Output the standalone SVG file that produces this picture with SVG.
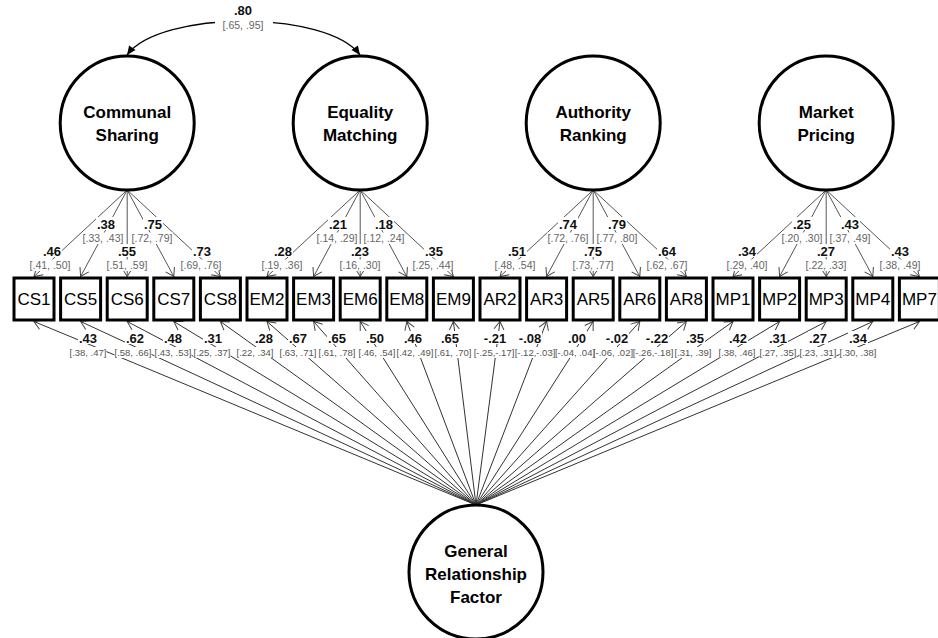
<svg xmlns="http://www.w3.org/2000/svg" width="938" height="638" viewBox="0 0 938 638">
<style>
text{font-family:"Liberation Sans",Arial,sans-serif;text-anchor:middle}
.box{fill:#fff;stroke:#000;stroke-width:3}
.lat{fill:#fff;stroke:#000;stroke-width:3}
.ln{stroke:#555;stroke-width:1;fill:none;marker-end:url(#oa)}
.lb{stroke:#333;stroke-width:1;fill:none;marker-end:url(#oa)}
.bt{font-size:17px;fill:#000}
.lt{font-size:17px;font-weight:bold;fill:#000}
.b{font-size:13px;font-weight:bold;fill:#111}
.ci{font-size:10.5px;fill:#666}
.ci2{font-size:9.5px;fill:#555}
.bg{fill:#fff}
</style>
<defs>
<marker id="oa" markerUnits="userSpaceOnUse" markerWidth="10" markerHeight="12" refX="8" refY="5" orient="auto" overflow="visible">
<path d="M0,0 L8,5 L0,10" fill="none" stroke="#444" stroke-width="1"/>
</marker>
<marker id="fa" markerUnits="userSpaceOnUse" markerWidth="10" markerHeight="10" refX="9" refY="4" orient="auto-start-reverse" overflow="visible">
<path d="M0,0 L9,4 L0,8 z" fill="#000"/>
</marker>
</defs>
<rect width="938" height="638" fill="#fff"/>

<g id="connectors">
<path d="M127,55 C160,10 327,10 360,55" fill="none" stroke="#000" stroke-width="1.3" marker-start="url(#fa)" marker-end="url(#fa)"/>
<g id="loadings-specific">
<line class="ln" x1="127.2" y1="190" x2="34" y2="276.5"/>
<line class="ln" x1="127.2" y1="190" x2="80.6" y2="276.5"/>
<line class="ln" x1="127.2" y1="190" x2="127.2" y2="276.5"/>
<line class="ln" x1="127.2" y1="190" x2="173.8" y2="276.5"/>
<line class="ln" x1="127.2" y1="190" x2="220.4" y2="276.5"/>
<line class="ln" x1="360.2" y1="190" x2="267" y2="276.5"/>
<line class="ln" x1="360.2" y1="190" x2="313.6" y2="276.5"/>
<line class="ln" x1="360.2" y1="190" x2="360.2" y2="276.5"/>
<line class="ln" x1="360.2" y1="190" x2="406.8" y2="276.5"/>
<line class="ln" x1="360.2" y1="190" x2="453.4" y2="276.5"/>
<line class="ln" x1="593.2" y1="190" x2="500" y2="276.5"/>
<line class="ln" x1="593.2" y1="190" x2="546.6" y2="276.5"/>
<line class="ln" x1="593.2" y1="190" x2="593.2" y2="276.5"/>
<line class="ln" x1="593.2" y1="190" x2="639.8" y2="276.5"/>
<line class="ln" x1="593.2" y1="190" x2="686.4" y2="276.5"/>
<line class="ln" x1="826.2" y1="190" x2="733" y2="276.5"/>
<line class="ln" x1="826.2" y1="190" x2="779.6" y2="276.5"/>
<line class="ln" x1="826.2" y1="190" x2="826.2" y2="276.5"/>
<line class="ln" x1="826.2" y1="190" x2="872.8" y2="276.5"/>
<line class="ln" x1="826.2" y1="190" x2="919.4" y2="276.5"/>
</g>
<g id="loadings-general">
<line class="lb" x1="476" y1="505" x2="34" y2="321.5"/>
<line class="lb" x1="476" y1="505" x2="80.6" y2="321.5"/>
<line class="lb" x1="476" y1="505" x2="127.2" y2="321.5"/>
<line class="lb" x1="476" y1="505" x2="173.8" y2="321.5"/>
<line class="lb" x1="476" y1="505" x2="220.4" y2="321.5"/>
<line class="lb" x1="476" y1="505" x2="267" y2="321.5"/>
<line class="lb" x1="476" y1="505" x2="313.6" y2="321.5"/>
<line class="lb" x1="476" y1="505" x2="360.2" y2="321.5"/>
<line class="lb" x1="476" y1="505" x2="406.8" y2="321.5"/>
<line class="lb" x1="476" y1="505" x2="453.4" y2="321.5"/>
<line class="lb" x1="476" y1="505" x2="500" y2="321.5"/>
<line class="lb" x1="476" y1="505" x2="546.6" y2="321.5"/>
<line class="lb" x1="476" y1="505" x2="593.2" y2="321.5"/>
<line class="lb" x1="476" y1="505" x2="639.8" y2="321.5"/>
<line class="lb" x1="476" y1="505" x2="686.4" y2="321.5"/>
<line class="lb" x1="476" y1="505" x2="733" y2="321.5"/>
<line class="lb" x1="476" y1="505" x2="779.6" y2="321.5"/>
<line class="lb" x1="476" y1="505" x2="826.2" y2="321.5"/>
<line class="lb" x1="476" y1="505" x2="872.8" y2="321.5"/>
<line class="lb" x1="476" y1="505" x2="919.4" y2="321.5"/>
</g>
</g>

<g id="labels-bg">
<rect class="bg" x="215" y="2" width="58" height="29"/>
<rect class="bg" x="42" y="244" width="20" height="13"/><rect class="bg" x="29" y="259.5" width="42" height="11.5"/>
<rect class="bg" x="117" y="244" width="20" height="13"/><rect class="bg" x="106" y="259.5" width="42" height="11.5"/>
<rect class="bg" x="192" y="244" width="20" height="13"/><rect class="bg" x="180" y="259.5" width="42" height="11.5"/>
<rect class="bg" x="273" y="244" width="20" height="13"/><rect class="bg" x="261" y="259.5" width="42" height="11.5"/>
<rect class="bg" x="350" y="244" width="20" height="13"/><rect class="bg" x="339" y="259.5" width="42" height="11.5"/>
<rect class="bg" x="424" y="244" width="20" height="13"/><rect class="bg" x="412" y="259.5" width="42" height="11.5"/>
<rect class="bg" x="507" y="244" width="20" height="13"/><rect class="bg" x="494" y="259.5" width="42" height="11.5"/>
<rect class="bg" x="583" y="244" width="20" height="13"/><rect class="bg" x="572" y="259.5" width="42" height="11.5"/>
<rect class="bg" x="657" y="244" width="20" height="13"/><rect class="bg" x="646" y="259.5" width="42" height="11.5"/>
<rect class="bg" x="737" y="244" width="20" height="13"/><rect class="bg" x="726" y="259.5" width="42" height="11.5"/>
<rect class="bg" x="816" y="244" width="20" height="13"/><rect class="bg" x="805" y="259.5" width="42" height="11.5"/>
<rect class="bg" x="890" y="244" width="20" height="13"/><rect class="bg" x="879" y="259.5" width="42" height="11.5"/>
<rect class="bg" x="96" y="217" width="20" height="13"/><rect class="bg" x="82" y="232.5" width="42" height="11.5"/>
<rect class="bg" x="143" y="217" width="20" height="13"/><rect class="bg" x="131" y="232.5" width="42" height="11.5"/>
<rect class="bg" x="328" y="217" width="20" height="13"/><rect class="bg" x="316" y="232.5" width="42" height="11.5"/>
<rect class="bg" x="374" y="217" width="20" height="13"/><rect class="bg" x="363" y="232.5" width="42" height="11.5"/>
<rect class="bg" x="558" y="217" width="20" height="13"/><rect class="bg" x="547" y="232.5" width="42" height="11.5"/>
<rect class="bg" x="607" y="217" width="20" height="13"/><rect class="bg" x="596" y="232.5" width="42" height="11.5"/>
<rect class="bg" x="792" y="217" width="20" height="13"/><rect class="bg" x="781" y="232.5" width="42" height="11.5"/>
<rect class="bg" x="840" y="217" width="20" height="13"/><rect class="bg" x="829" y="232.5" width="42" height="11.5"/>
<rect class="bg" x="78" y="331" width="20" height="13"/><rect class="bg" x="69.5" y="347" width="37" height="11"/>
<rect class="bg" x="125" y="331" width="20" height="13"/><rect class="bg" x="114.5" y="347" width="37" height="11"/>
<rect class="bg" x="163" y="331" width="20" height="13"/><rect class="bg" x="154.5" y="347" width="37" height="11"/>
<rect class="bg" x="203" y="331" width="20" height="13"/><rect class="bg" x="193.5" y="347" width="37" height="11"/>
<rect class="bg" x="254" y="331" width="20" height="13"/><rect class="bg" x="236.5" y="347" width="37" height="11"/>
<rect class="bg" x="288" y="331" width="20" height="13"/><rect class="bg" x="279.5" y="347" width="37" height="11"/>
<rect class="bg" x="327" y="331" width="20" height="13"/><rect class="bg" x="318.5" y="347" width="37" height="11"/>
<rect class="bg" x="365" y="331" width="20" height="13"/><rect class="bg" x="358.5" y="347" width="37" height="11"/>
<rect class="bg" x="403" y="331" width="20" height="13"/><rect class="bg" x="396.5" y="347" width="37" height="11"/>
<rect class="bg" x="440" y="331" width="20" height="13"/><rect class="bg" x="434.5" y="347" width="37" height="11"/>
<rect class="bg" x="483" y="331" width="24" height="13"/><rect class="bg" x="473.5" y="347" width="41" height="11"/>
<rect class="bg" x="518" y="331" width="24" height="13"/><rect class="bg" x="514.5" y="347" width="41" height="11"/>
<rect class="bg" x="567" y="331" width="20" height="13"/><rect class="bg" x="555" y="347" width="40" height="11"/>
<rect class="bg" x="605" y="331" width="24" height="13"/><rect class="bg" x="593" y="347" width="40" height="11"/>
<rect class="bg" x="645" y="331" width="24" height="13"/><rect class="bg" x="632.5" y="347" width="41" height="11"/>
<rect class="bg" x="685" y="331" width="20" height="13"/><rect class="bg" x="674.5" y="347" width="37" height="11"/>
<rect class="bg" x="728" y="331" width="20" height="13"/><rect class="bg" x="718.5" y="347" width="37" height="11"/>
<rect class="bg" x="768" y="331" width="20" height="13"/><rect class="bg" x="759.5" y="347" width="37" height="11"/>
<rect class="bg" x="808" y="331" width="20" height="13"/><rect class="bg" x="799.5" y="347" width="37" height="11"/>
<rect class="bg" x="848" y="331" width="20" height="13"/><rect class="bg" x="839.5" y="347" width="37" height="11"/>
</g>

<g id="labels">
<text class="b" x="243" y="15">.80</text><text class="ci" x="243" y="28.5">[.65, .95]</text>
<text class="b" x="52" y="256">.46</text><text class="ci" x="50" y="269">[.41, .50]</text>
<text class="b" x="106" y="229">.38</text><text class="ci" x="103" y="242">[.33, .43]</text>
<text class="b" x="127" y="256">.55</text><text class="ci" x="127" y="269">[.51, .59]</text>
<text class="b" x="153" y="229">.75</text><text class="ci" x="152" y="242">[.72, .79]</text>
<text class="b" x="202" y="256">.73</text><text class="ci" x="201" y="269">[.69, .76]</text>
<text class="b" x="283" y="256">.28</text><text class="ci" x="282" y="269">[.19, .36]</text>
<text class="b" x="338" y="229">.21</text><text class="ci" x="337" y="242">[.14, .29]</text>
<text class="b" x="360" y="256">.23</text><text class="ci" x="360" y="269">[.16, .30]</text>
<text class="b" x="384" y="229">.18</text><text class="ci" x="384" y="242">[.12, .24]</text>
<text class="b" x="434" y="256">.35</text><text class="ci" x="433" y="269">[.25, .44]</text>
<text class="b" x="517" y="256">.51</text><text class="ci" x="515" y="269">[.48, .54]</text>
<text class="b" x="568" y="229">.74</text><text class="ci" x="568" y="242">[.72, .76]</text>
<text class="b" x="593" y="256">.75</text><text class="ci" x="593" y="269">[.73, .77]</text>
<text class="b" x="617" y="229">.79</text><text class="ci" x="617" y="242">[.77, .80]</text>
<text class="b" x="667" y="256">.64</text><text class="ci" x="667" y="269">[.62, .67]</text>
<text class="b" x="747" y="256">.34</text><text class="ci" x="747" y="269">[.29, .40]</text>
<text class="b" x="802" y="229">.25</text><text class="ci" x="802" y="242">[.20, .30]</text>
<text class="b" x="826" y="256">.27</text><text class="ci" x="826" y="269">[.22, .33]</text>
<text class="b" x="850" y="229">.43</text><text class="ci" x="850" y="242">[.37, .49]</text>
<text class="b" x="900" y="256">.43</text><text class="ci" x="900" y="269">[.38, .49]</text>

<text class="b" x="88" y="343">.43</text><text class="ci ci2" x="88" y="356">[.38, .47]</text>
<text class="b" x="135" y="343">.62</text><text class="ci ci2" x="133" y="356">[.58, .66]</text>
<text class="b" x="173" y="343">.48</text><text class="ci ci2" x="173" y="356">[.43, .53]</text>
<text class="b" x="213" y="343">.31</text><text class="ci ci2" x="212" y="356">[.25, .37]</text>
<text class="b" x="264" y="343">.28</text><text class="ci ci2" x="255" y="356">[.22, .34]</text>
<text class="b" x="298" y="343">.67</text><text class="ci ci2" x="298" y="356">[.63, .71]</text>
<text class="b" x="337" y="343">.65</text><text class="ci ci2" x="337" y="356">[.61, .78]</text>
<text class="b" x="375" y="343">.50</text><text class="ci ci2" x="377" y="356">[.46, .54]</text>
<text class="b" x="413" y="343">.46</text><text class="ci ci2" x="415" y="356">[.42, .49]</text>
<text class="b" x="450" y="343">.65</text><text class="ci ci2" x="453" y="356">[.61, .70]</text>
<text class="b" x="495" y="343">-.21</text><text class="ci ci2" x="494" y="356">[-.25,-.17]</text>
<text class="b" x="530" y="343">-.08</text><text class="ci ci2" x="535" y="356">[-.12,-.03]</text>
<text class="b" x="577" y="343">.00</text><text class="ci ci2" x="575" y="356">[-.04, .04]</text>
<text class="b" x="617" y="343">-.02</text><text class="ci ci2" x="613" y="356">[-.06, .02]</text>
<text class="b" x="657" y="343">-.22</text><text class="ci ci2" x="653" y="356">[-.26,-.18]</text>
<text class="b" x="695" y="343">.35</text><text class="ci ci2" x="693" y="356">[.31, .39]</text>
<text class="b" x="738" y="343">.42</text><text class="ci ci2" x="737" y="356">[.38, .46]</text>
<text class="b" x="778" y="343">.31</text><text class="ci ci2" x="778" y="356">[.27, .35]</text>
<text class="b" x="818" y="343">.27</text><text class="ci ci2" x="818" y="356">[.23, .31]</text>
<text class="b" x="858" y="343">.34</text><text class="ci ci2" x="858" y="356">[.30, .38]</text>
</g>

<g id="CS"><circle class="lat" cx="127.2" cy="123" r="67"/><text class="lt" x="127.2" y="118">Communal</text><text class="lt" x="127.2" y="141">Sharing</text></g>
<g id="EM"><circle class="lat" cx="360.2" cy="123" r="67"/><text class="lt" x="360.2" y="118">Equality</text><text class="lt" x="360.2" y="141">Matching</text></g>
<g id="AR"><circle class="lat" cx="593.2" cy="123" r="67"/><text class="lt" x="593.2" y="118">Authority</text><text class="lt" x="593.2" y="141">Ranking</text></g>
<g id="MP"><circle class="lat" cx="826.2" cy="123" r="67"/><text class="lt" x="826.2" y="118">Market</text><text class="lt" x="826.2" y="141">Pricing</text></g>
<g id="GRF"><circle class="lat" cx="476" cy="572" r="67"/><text class="lt" x="476" y="557">General</text><text class="lt" x="476" y="580">Relationship</text><text class="lt" x="476" y="603">Factor</text></g>

<g id="CS1"><rect class="box" x="14" y="278" width="40" height="42"/><text class="bt" x="34" y="305">CS1</text></g>
<g id="CS5"><rect class="box" x="60.6" y="278" width="40" height="42"/><text class="bt" x="80.6" y="305">CS5</text></g>
<g id="CS6"><rect class="box" x="107.2" y="278" width="40" height="42"/><text class="bt" x="127.2" y="305">CS6</text></g>
<g id="CS7"><rect class="box" x="153.8" y="278" width="40" height="42"/><text class="bt" x="173.8" y="305">CS7</text></g>
<g id="CS8"><rect class="box" x="200.4" y="278" width="40" height="42"/><text class="bt" x="220.4" y="305">CS8</text></g>
<g id="EM2"><rect class="box" x="247" y="278" width="40" height="42"/><text class="bt" x="267" y="305">EM2</text></g>
<g id="EM3"><rect class="box" x="293.6" y="278" width="40" height="42"/><text class="bt" x="313.6" y="305">EM3</text></g>
<g id="EM6"><rect class="box" x="340.2" y="278" width="40" height="42"/><text class="bt" x="360.2" y="305">EM6</text></g>
<g id="EM8"><rect class="box" x="386.8" y="278" width="40" height="42"/><text class="bt" x="406.8" y="305">EM8</text></g>
<g id="EM9"><rect class="box" x="433.4" y="278" width="40" height="42"/><text class="bt" x="453.4" y="305">EM9</text></g>
<g id="AR2"><rect class="box" x="480" y="278" width="40" height="42"/><text class="bt" x="500" y="305">AR2</text></g>
<g id="AR3"><rect class="box" x="526.6" y="278" width="40" height="42"/><text class="bt" x="546.6" y="305">AR3</text></g>
<g id="AR5"><rect class="box" x="573.2" y="278" width="40" height="42"/><text class="bt" x="593.2" y="305">AR5</text></g>
<g id="AR6"><rect class="box" x="619.8" y="278" width="40" height="42"/><text class="bt" x="639.8" y="305">AR6</text></g>
<g id="AR8"><rect class="box" x="666.4" y="278" width="40" height="42"/><text class="bt" x="686.4" y="305">AR8</text></g>
<g id="MP1"><rect class="box" x="713" y="278" width="40" height="42"/><text class="bt" x="733" y="305">MP1</text></g>
<g id="MP2"><rect class="box" x="759.6" y="278" width="40" height="42"/><text class="bt" x="779.6" y="305">MP2</text></g>
<g id="MP3"><rect class="box" x="806.2" y="278" width="40" height="42"/><text class="bt" x="826.2" y="305">MP3</text></g>
<g id="MP4"><rect class="box" x="852.8" y="278" width="40" height="42"/><text class="bt" x="872.8" y="305">MP4</text></g>
<g id="MP7"><rect class="box" x="899.4" y="278" width="40" height="42"/><text class="bt" x="919.4" y="305">MP7</text></g>
</svg>
